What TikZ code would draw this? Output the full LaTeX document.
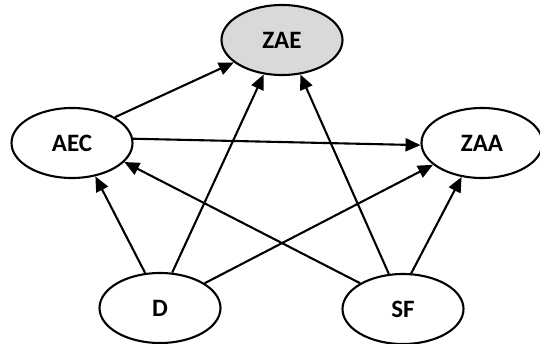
\documentclass[tikz,border=0pt]{standalone}
\usepackage{fontspec}
\setmainfont{Carlito}
\usepackage{tikz}
\usetikzlibrary{arrows.meta,shapes.geometric}

\begin{document}
\begin{tikzpicture}[x=1pt, y=-1pt,
  factor/.style={ellipse, draw, line width=2.1pt, minimum width=121pt, minimum height=70pt,
    inner sep=0pt, font=\bfseries\fontsize{25}{25}\selectfont},
  outcome/.style={factor, fill=gray!30},
  dep/.style={line width=2.1pt, -{Triangle[length=15pt, width=13pt]}}
]
\useasboundingbox (0,0) rectangle (540,344);

\node[outcome] (zae) at (282,40) {ZAE};
\node[factor] (aec) at (72,143) {AEC};
\node[factor] (zaa) at (482,143) {ZAA};
\node[factor] (d) at (160,308) {D};
\node[factor] (sf) at (403,309) {SF};

\draw[dep] (aec.31) -- (zae.205);
\draw[dep] (aec.4) -- (zaa.182);
\draw[dep] (d.113) -- (aec.305);
\draw[dep] (d.71) -- (zae.242);
\draw[dep] (d.29) -- (zaa.204);
\draw[dep] (sf.149) -- (aec.340);
\draw[dep] (sf.112) -- (zae.298);
\draw[dep] (sf.77) -- (zaa.239);
\end{tikzpicture}
\end{document}
